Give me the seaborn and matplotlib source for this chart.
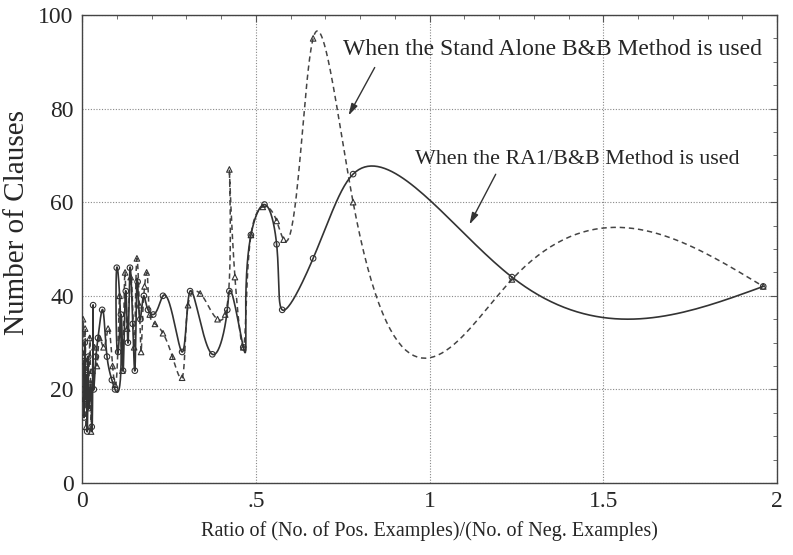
import numpy as np
import pandas as pd
import matplotlib
matplotlib.use("Agg")
import matplotlib.pyplot as plt
import seaborn as sns

# === Data ===
ra1_ratio = [0.000, 0.004, 0.006, 0.008, 0.010, 0.012, 0.015, 0.018, 0.020, 0.024,
             0.028, 0.032, 0.034, 0.040, 0.046, 0.058, 0.072, 0.086, 0.095, 0.100,
             0.104, 0.112, 0.118, 0.126, 0.132, 0.138, 0.146, 0.152, 0.160, 0.168,
             0.178, 0.190, 0.205, 0.233, 0.288, 0.311, 0.375, 0.418, 0.424, 0.464,
             0.486, 0.525, 0.560, 0.576, 0.665, 0.780, 1.237, 1.960]
ra1_clauses = [20, 26, 14, 30, 18, 23, 11, 27, 16, 21,
               12, 38, 20, 27, 31, 37, 27, 22, 20, 46,
               28, 36, 24, 41, 30, 46, 34, 24, 43, 35,
               40, 37, 36, 40, 28, 41, 27.5, 37, 41, 29,
               53, 59.5, 51, 37, 48, 66, 44, 42]

bb_ratio = [0.000, 0.003, 0.006, 0.009, 0.012, 0.015, 0.018, 0.022, 0.026, 0.030,
            0.036, 0.043, 0.050, 0.062, 0.075, 0.088, 0.095, 0.108, 0.116, 0.124,
            0.130, 0.140, 0.150, 0.158, 0.165, 0.170, 0.180, 0.186, 0.195, 0.210,
            0.233, 0.260, 0.288, 0.305, 0.340, 0.390, 0.412, 0.424, 0.440, 0.464,
            0.486, 0.520, 0.560, 0.580, 0.665, 0.780, 1.237, 1.960]
bb_clauses = [28, 35, 18, 33, 12, 26, 20, 31, 11, 24,
              29, 25, 31, 29, 33, 25, 21, 40, 24, 45,
              33, 44, 29, 48, 38, 28, 42, 45, 36, 34,
              32, 27, 22.5, 38, 40.5, 35, 36, 67, 44, 29,
              53, 59, 56, 52, 95, 60, 43.5, 42]

x_ticks = [0, 0.5, 1, 1.5, 2]
x_tick_labels = ["0", ".5", "1", "1.5", "2"]
y_ticks = [0, 20, 40, 60, 80, 100]

label_bb = "When the Stand Alone B&B Method is used"
label_ra1 = "When the RA1/B&B Method is used"


# === Smooth curve: natural cubic spline over a parameter (parametric) ===
def natural_spline(t, v, n_sub=40):
    t = np.asarray(t, dtype=float)
    v = np.asarray(v, dtype=float)
    n = len(v)
    h = np.diff(t)
    A = np.zeros((n, n))
    b = np.zeros(n)
    A[0, 0] = A[-1, -1] = 1
    for i in range(1, n - 1):
        A[i, i - 1] = h[i - 1]
        A[i, i] = 2 * (h[i - 1] + h[i])
        A[i, i + 1] = h[i]
        b[i] = 6 * ((v[i + 1] - v[i]) / h[i] - (v[i] - v[i - 1]) / h[i - 1])
    M = np.linalg.solve(A, b)
    out = []
    s = np.linspace(0, 1, n_sub, endpoint=False)
    for i in range(n - 1):
        out.append((1 - s) * v[i] + s * v[i + 1]
                   + h[i] ** 2 / 6 * (((1 - s) ** 3 - (1 - s)) * M[i]
                                      + (s ** 3 - s) * M[i + 1]))
    out.append([v[-1]])
    return np.concatenate(out)


def smooth(xs, ys, y_weight):
    xs = np.asarray(xs, dtype=float)
    ys = np.asarray(ys, dtype=float)
    # parameter step: mostly horizontal screen distance, a bit of vertical
    seg = np.hypot(np.diff(xs) * 347.5, np.diff(ys) * 4.68 * y_weight)
    t = np.concatenate([[0], np.cumsum(seg)])
    return pd.DataFrame({"x": natural_spline(t, xs), "y": natural_spline(t, ys)})


curve_ra1 = smooth(ra1_ratio, ra1_clauses, 0.6)
curve_bb = smooth(bb_ratio, bb_clauses, 0.2)

# === Plot ===
sns.set_style("white")
plt.rcParams["font.family"] = ["Liberation Serif", "DejaVu Serif"]

fig = plt.figure(figsize=(7.93, 5.55), dpi=100)
ax = fig.add_axes([0.1034, 0.1297, 0.8766, 0.8433])

line_color = "#333333"
sns.lineplot(data=curve_bb, x="x", y="y", sort=False, estimator=None, ax=ax,
             color="#444444", lw=1.1, linestyle=(0, (3.5, 2.5)))
sns.lineplot(data=curve_ra1, x="x", y="y", sort=False, estimator=None, ax=ax,
             color=line_color, lw=1.2)
sns.scatterplot(x=bb_ratio, y=bb_clauses, marker="^", s=16, facecolors="none",
                edgecolor=line_color, linewidth=0.8, ax=ax, zorder=3)
sns.scatterplot(x=ra1_ratio, y=ra1_clauses, marker="o", s=16, facecolors="none",
                edgecolor=line_color, linewidth=0.8, ax=ax, zorder=3)

ax.set_xlim(0, 2)
ax.set_ylim(0, 100)
ax.set_xticks(x_ticks)
ax.set_xticklabels(x_tick_labels)
ax.set_yticks(y_ticks)
ax.set_xticks(np.arange(0, 2.01, 0.1), minor=True)
ax.set_yticks(np.arange(0, 101, 5), minor=True)
ax.tick_params(which="both", direction="in", top=True, right=True,
               labelsize=17, color="#555555")
ax.tick_params(which="major", length=5, pad=6)
ax.tick_params(which="minor", length=3)
ax.grid(True, which="major", linestyle=(0, (1, 1.5)), color="#888888", lw=0.8)
for sp in ax.spines.values():
    sp.set_color("#444444")
    sp.set_linewidth(1.0)

ax.set_xlabel("Ratio of (No. of Pos. Examples)/(No. of Neg. Examples)",
              fontsize=14.5, labelpad=6)
ax.set_ylabel("Number of Clauses", fontsize=21)
ax.yaxis.set_label_coords(-0.075, 0.557)

ax.text(0.751, 92.6, label_bb, fontsize=17, va="center", ha="left")
ax.text(0.958, 69.1, label_ra1, fontsize=15.8, va="center", ha="left")
arrow = dict(arrowstyle="-|>,head_length=0.7,head_width=0.2", color="#333333", lw=1.0)
ax.annotate("", xy=(0.763, 78.0), xytext=(0.846, 89.3), arrowprops=arrow)
ax.annotate("", xy=(1.111, 54.7), xytext=(1.194, 66.5), arrowprops=arrow)

fig.savefig("out.png", dpi=100)
